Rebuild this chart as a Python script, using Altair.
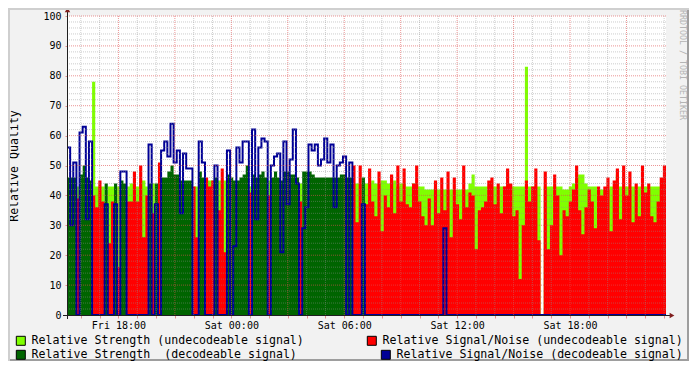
import altair as alt
import pandas as pd

# ---------------- data ----------------
# one sample every 10 minutes starting Fri 15:16 (UTC);  D = decodeable, U = undecodeable, - = no data
state = list(
    "DDDUDDDDUU" "UUDUUDUDDU" "UUUUUUDUDU" "DDDDDDDDDD" "UUDDUUUDUU"
    "UDDDDDDDUD" "DDDDUDDDDD" "DDDDUDDDDD" "DDDDDDDDDD" "DUUUDUUUUU"
    "UUUUUUUUUU" "UUUUUUUUUU" "UUUUUUUUUU" "UUUUUUUUUU" "UUUUUUUUUU"
    "U-UUUUUUUU" "UUUUUUUUUU" "UUUUUUUUUU" "UUUUUUUUUU" "U"
)
strength = [
    46, 46, 46, 43, 47, 50, 46, 45, 78, 43,
    43, 43, 44, 43, 43, 44, 43, 45, 44, 43,
    44, 44, 43, 45, 45, 43, 44, 44, 44, 44,
    46, 46, 48, 50, 47, 47, 45, 45, 45, 45,
    43, 43, 48, 46, 45, 45, 45, 46, 45, 45,
    45, 47, 46, 45, 45, 46, 47, 50, 43, 47,
    46, 47, 48, 46, 45, 46, 48, 46, 45, 48,
    48, 47, 47, 46, 44, 48, 48, 48, 47, 46,
    46, 46, 46, 46, 46, 46, 46, 47, 47, 46,
    46, 44, 44, 44, 46, 44, 44, 45, 44, 44,
    45, 45, 44, 44, 45, 43, 44, 44, 43, 43,
    44, 44, 43, 43, 42, 42, 42, 43, 42, 42,
    42, 42, 42, 42, 42, 42, 42, 42, 44, 47,
    43, 43, 43, 43, 43, 43, 43, 43, 43, 43,
    43, 43, 43, 43, 43, 43, 83, 43, 43, 43,
    43, 0, 43, 43, 43, 43, 43, 43, 42, 42,
    43, 44, 46, 47, 47, 44, 43, 43, 43, 42,
    42, 42, 42, 43, 43, 47, 43, 43, 43, 43,
    43, 43, 43, 43, 43, 43, 43, 43, 43, 43, 43,
]
snr = [
    56, 30, 51, 39, 61, 63, 32, 58, 40, 36,
    45, 38, 37, 24, 38, 37, 16, 48, 48, 38,
    38, 48, 38, 50, 26, 40, 57, 34, 37, 51,
    55, 58, 53, 64, 51, 55, 34, 54, 49, 49,
    43, 26, 58, 51, 46, 43, 45, 50, 35, 49,
    21, 55, 0, 23, 56, 51, 58, 58, 41, 62,
    32, 56, 59, 58, 40, 50, 53, 54, 21, 58,
    37, 52, 62, 44, 38, 29, 36, 57, 55, 57,
    50, 52, 59, 51, 57, 36, 50, 51, 53, 0,
    51, 50, 31, 50, 37, 37, 49, 38, 33, 48,
    28, 40, 36, 47, 34, 50, 38, 49, 37, 36,
    44, 50, 38, 33, 30, 39, 30, 45, 34, 46,
    35, 48, 26, 46, 37, 32, 50, 36, 41, 40,
    22, 35, 36, 38, 45, 46, 37, 44, 34, 43,
    49, 44, 33, 35, 12, 30, 45, 38, 43, 49,
    25, 0, 48, 22, 30, 47, 40, 20, 35, 33,
    38, 42, 50, 35, 27, 36, 42, 38, 29, 43,
    40, 43, 46, 28, 45, 49, 32, 50, 40, 48,
    31, 44, 33, 50, 41, 44, 33, 31, 38, 46, 50,
]
blue_extra = {120: 29}   # isolated decodeable S/N reading inside the undecodeable part

labels = [
    "Relative Strength (undecodeable signal)",
    "Relative Signal/Noise (undecodeable signal)",
    "Relative Strength\u00a0 (decodeable signal)",
    "Relative Signal/Noise (decodeable signal)",
]
colors = ["#80FF00", "#FF0000", "#006400", "#000096"]
watermark = "RRDTOOL / TOBI OETIKER"

y_ticks = [0, 10, 20, 30, 40, 50, 60, 70, 80, 90, 100]

# ---------------- table ----------------
T0 = int(pd.Timestamp("2024-01-05T15:16:00Z").value // 1_000_000)
STEP = 10 * 60 * 1000
N = len(state)
T_END = T0 + N * STEP

rows = []
for i in range(N + 1):
    k = min(i, N - 1)
    s, a, b = state[k], strength[k], snr[k]
    rows.append({
        "t": T0 + i * STEP,
        "lg": a if s == "U" else 0,
        "rd": b if s == "U" else 0,
        "dg": a if s == "D" else 0,
        "bl": b if s == "D" else blue_extra.get(k, 0),
    })
df = pd.DataFrame(rows)

HOUR = 3600 * 1000
first_hour = T0 - T0 % HOUR + HOUR
hours = list(range(first_hour, T_END, HOUR))
x_minor = pd.DataFrame({"t": [h for h in hours if (h // HOUR) % 3 != 0]})
x_major = pd.DataFrame({"t": [h for h in hours if (h // HOUR) % 3 == 0]})
y_minor = pd.DataFrame({"v": [v for v in range(2, 100, 2) if v % 10]})
y_major = pd.DataFrame({"v": [v for v in y_ticks if v > 0]})

MONO = "DejaVu Sans Mono"
MINOR = "rgba(143,143,143,0.45)"
MAJOR = "rgba(222,79,79,0.6)"
AXISC = "#1F1F1F"
ARROW = "#801F1F"

xs = alt.Scale(type="utc", domain=[T0, T_END], nice=False)
ys = alt.Scale(domain=[0, 100], nice=False, zero=True)
xax = alt.Axis(
    values=hours, title=None, grid=False, domain=False,
    labelExpr="utchours(datum.value) % 6 == 0 ? utcFormat(datum.value, '%a %H:%M') : ''",
    tickSize=3, tickColor=MAJOR, labelFont=MONO, labelFontSize=10, labelColor="black",
    labelPadding=2, labelOverlap=False, labelFlush=False,
)
yax = alt.Axis(
    values=y_ticks, title="Relative Quality", grid=False, domain=False,
    titleFont=MONO, titleFontSize=11.6, titleFontWeight="normal", titleColor="black",
    titleX=-53, titleY=149.5, titleAngle=270, titleBaseline="middle", titleAlign="center",
    tickSize=2, tickColor=MAJOR, labelFont=MONO, labelFontSize=10, labelColor="black",
    labelPadding=4,
)

X = alt.X("t:T", scale=xs, axis=xax)


def area(col, color):
    return alt.Chart(df).mark_area(interpolate="step-after", opacity=1, color=color).encode(
        x=X, y=alt.Y(f"{col}:Q", scale=ys, axis=yax)
    )


lg = area("lg", colors[0])
rd = area("rd", colors[1])
dg = area("dg", colors[2])
bl = alt.Chart(df).mark_line(interpolate="step-after", color=colors[3], strokeWidth=2).encode(
    x=X, y=alt.Y("bl:Q", scale=ys, axis=yax)
)

grid_xmin = alt.Chart(x_minor).mark_rule(color=MINOR, strokeDash=[1, 1]).encode(x=X)
grid_xmaj = alt.Chart(x_major).mark_rule(color=MAJOR, strokeDash=[1, 1]).encode(x=X)
grid_ymin = alt.Chart(y_minor).mark_rule(color=MINOR, strokeDash=[1, 1]).encode(
    y=alt.Y("v:Q", scale=ys, axis=yax))
grid_ymaj = alt.Chart(y_major).mark_rule(color=MAJOR, strokeDash=[1, 1]).encode(
    y=alt.Y("v:Q", scale=ys, axis=yax))

one = pd.DataFrame({"k": [0]})
x_line = alt.Chart(one).mark_rule(color=AXISC).encode(
    x=alt.value(-4), x2=alt.value(604), y=alt.value(299.5))
y_line = alt.Chart(one).mark_rule(color=AXISC).encode(
    x=alt.value(0.5), y=alt.value(303), y2=alt.value(-5))
x_arrow = alt.Chart(one).mark_point(shape="triangle-right", filled=True, color=ARROW,
                                    size=30, opacity=1).encode(x=alt.value(605), y=alt.value(299.5))
y_arrow = alt.Chart(one).mark_point(shape="triangle-up", filled=True, color=ARROW,
                                    size=30, opacity=1).encode(x=alt.value(0.5), y=alt.value(-6))

b_bottom = alt.Chart(one).mark_rule(color="#9E9E9E", strokeWidth=2).encode(
    x=alt.value(-59), x2=alt.value(622), y=alt.value(344))
b_right = alt.Chart(one).mark_rule(color="#9E9E9E", strokeWidth=2).encode(
    x=alt.value(621), y=alt.value(-8), y2=alt.value(345))
b_top = alt.Chart(one).mark_rule(color="#CFCFCF", strokeWidth=2).encode(
    x=alt.value(-59), x2=alt.value(622), y=alt.value(-7))
b_left = alt.Chart(one).mark_rule(color="#CFCFCF", strokeWidth=2).encode(
    x=alt.value(-58), y=alt.value(-8), y2=alt.value(345))

wm = alt.Chart(pd.DataFrame({"txt": [watermark]})).mark_text(
    angle=90, align="left", baseline="middle", font=MONO, fontSize=8.3, color="#B4B4B4"
).encode(text="txt:N", x=alt.value(615), y=alt.value(-6))

legend_pos = [(-52, 319), (299, 319), (-52, 333), (313, 333)]


def legend_layer(label, color, pos):
    return alt.Chart(pd.DataFrame({"name": [label]})).mark_square(opacity=0).encode(
        x=alt.value(0), y=alt.value(0),
        fill=alt.Fill(
            "name:N",
            scale=alt.Scale(domain=[label], range=[color]),
            legend=alt.Legend(
                orient="none", legendX=pos[0], legendY=pos[1], title=None, padding=0,
                symbolType="square", symbolSize=81, symbolStrokeColor="black",
                symbolStrokeWidth=1, symbolOpacity=1, labelFont=MONO, labelFontSize=11.6,
                labelColor="black", labelOffset=5, labelLimit=0,
            ),
        ),
    )


legends = [legend_layer(l, c, p) for l, c, p in zip(labels, colors, legend_pos)]

chart = alt.layer(
    lg, rd, dg, bl,
    grid_ymin, grid_xmin, grid_ymaj, grid_xmaj,
    x_line, y_line, x_arrow, y_arrow,
    b_bottom, b_right, b_top, b_left, wm,
    *legends,
).resolve_scale(fill="independent").properties(
    width=599, height=299,
    autosize=alt.AutoSizeParams(type="none"),
    padding={"left": 59, "top": 8, "right": 23, "bottom": 46},
    background="#F2F2F2",
).configure_view(fill="white", strokeWidth=0)

chart.save("out.html", embed_options={"renderer": "svg", "actions": False})
